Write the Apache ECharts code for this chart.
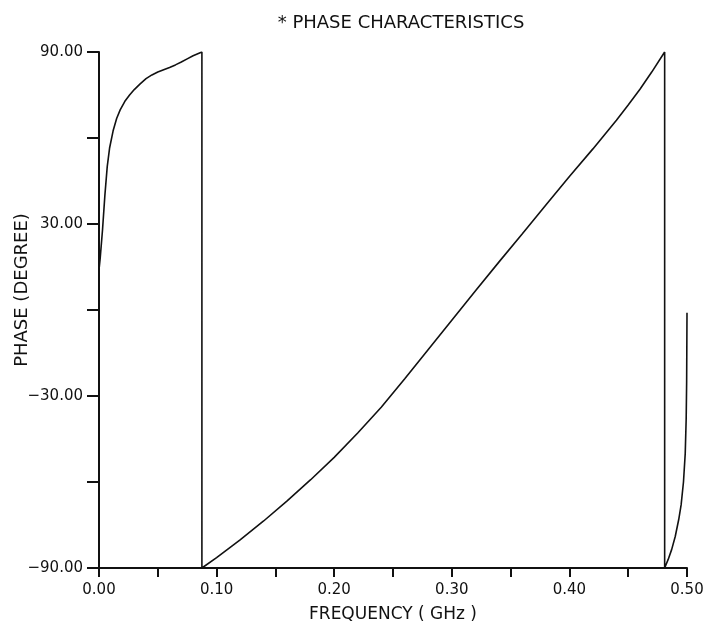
<!DOCTYPE html>
<html>
<head>
<meta charset="utf-8">
<script src="https://cdn.jsdelivr.net/npm/echarts@6/dist/echarts.min.js"></script>
<style>
  html, body { margin: 0; padding: 0; background: #fff; }
  #main { width: 707px; height: 629px; }
</style>
</head>
<body>
<div id="main"></div>
<script>
  // frequency (GHz) and phase (degree); the jumps are drawn as vertical lines
  var freq = [
    0, 0.001, 0.003, 0.005, 0.007, 0.009, 0.012, 0.015, 0.018, 0.022, 0.026, 0.030, 0.035, 0.040, 0.045,
    0.050, 0.055, 0.060, 0.065, 0.070, 0.075, 0.080, 0.0875,
    0.0875, 0.100, 0.120, 0.140, 0.160, 0.180, 0.200, 0.220, 0.240, 0.260, 0.280, 0.300, 0.320, 0.340,
    0.360, 0.380, 0.400, 0.420, 0.440, 0.450, 0.460, 0.470, 0.481,
    0.481, 0.484, 0.487, 0.490, 0.493, 0.495, 0.497, 0.4985, 0.4993, 0.4997, 0.500
  ];
  var phase = [
    14, 18, 28, 40, 50, 56.5, 62.5, 66.8, 69.8, 72.8, 75.0, 76.9, 78.9, 80.7, 82.0,
    83.0, 83.8, 84.6, 85.5, 86.5, 87.6, 88.7, 90,
    -90, -86.4, -80.2, -73.6, -66.6, -59.2, -51.4, -42.9, -33.9, -24.0, -13.8, -3.6, 6.6, 16.7,
    26.6, 36.6, 46.6, 56.2, 66.2, 71.5, 77.0, 83.0, 90,
    -90, -87, -83.5, -79, -73, -68, -60, -50, -38, -25, -1
  ];
  var yLabels = [-90, -30, 30, 90];
  var xLabels = [0, 0.1, 0.2, 0.3, 0.4, 0.5];

  var pts = freq.map(function (f, i) { return [f, phase[i]]; });
  var font = 'DejaVu Sans';

  var chart = echarts.init(document.getElementById('main'));
  chart.setOption({
    animation: false,
    backgroundColor: '#fff',
    title: {
      text: '* PHASE CHARACTERISTICS',
      left: 396,
      top: 9,
      textAlign: 'center',
      textStyle: { fontFamily: font, fontSize: 18, fontWeight: 'normal', color: '#111' }
    },
    grid: { left: 99, right: 20, top: 52, bottom: 61, outerBoundsMode: 'none', containLabel: false },
    xAxis: {
      type: 'value',
      min: 0,
      max: 0.5,
      interval: 0.05,
      name: 'FREQUENCY ( GHz )',
      nameLocation: 'middle',
      nameGap: 38,
      nameMoveOverlap: false,
      nameTextStyle: { fontFamily: font, fontSize: 17, color: '#111' },
      axisLine: { onZero: false, lineStyle: { color: '#111', width: 2 } },
      axisTick: { length: 9, lineStyle: { color: '#111', width: 2 } },
      axisLabel: {
        margin: 15,
        fontFamily: font,
        fontSize: 15,
        color: '#111',
        formatter: function (v) {
          var hit = xLabels.some(function (t) { return Math.abs(t - v) < 1e-6; });
          return hit ? v.toFixed(2) : '';
        }
      },
      splitLine: { show: false }
    },
    yAxis: {
      type: 'value',
      min: -90,
      max: 90,
      interval: 30,
      name: 'PHASE (DEGREE)',
      nameLocation: 'middle',
      nameGap: 68,
      nameMoveOverlap: false,
      nameTextStyle: { fontFamily: font, fontSize: 18, color: '#111', padding: [0, 0, 0, 40] },
      axisLine: { onZero: false, lineStyle: { color: '#111', width: 2 } },
      axisTick: { length: 12, lineStyle: { color: '#111', width: 2 } },
      axisLabel: {
        margin: 16,
        fontFamily: font,
        fontSize: 15,
        color: '#111',
        formatter: function (v) {
          return yLabels.indexOf(v) >= 0 ? v.toFixed(2).replace('-', '\u2212') : '';
        }
      },
      splitLine: { show: false }
    },
    series: [{
      type: 'line',
      data: pts,
      showSymbol: false,
      smooth: false,
      lineStyle: { color: '#111', width: 1.6 }
    }]
  });
</script>
</body>
</html>
